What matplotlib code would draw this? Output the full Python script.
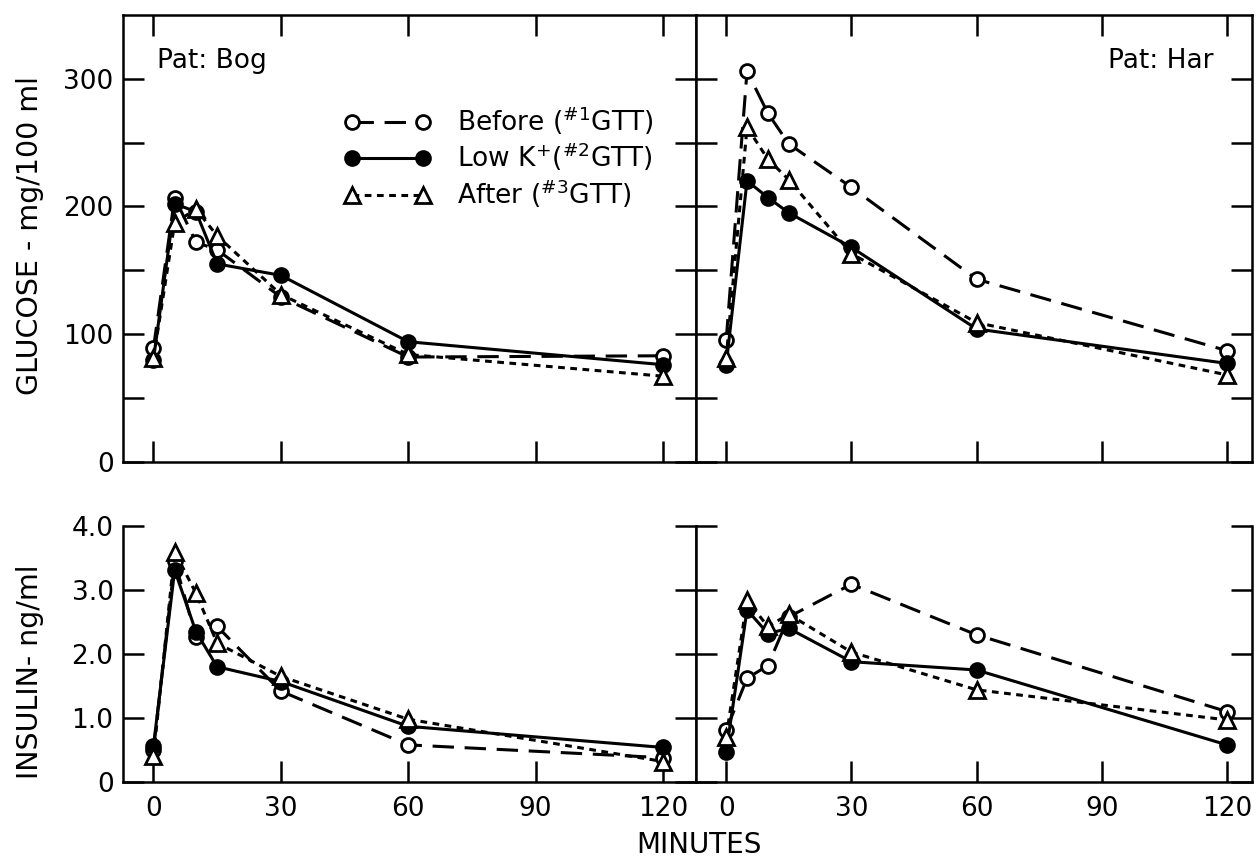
import matplotlib
matplotlib.use('Agg')
import matplotlib.pyplot as plt
from matplotlib.lines import Line2D
from matplotlib.ticker import FixedLocator, FuncFormatter

plt.rcParams['font.family'] = ['DejaVu Sans']
plt.rcParams['mathtext.fontset'] = 'dejavusans'

minutes = [0, 5, 10, 15, 30, 60, 120]
x_ticks = [0, 30, 60, 90, 120]

glu_bog_before = [89, 207, 172, 166, 129, 82, 83]
glu_bog_lowk = [80, 202, 196, 155, 146, 94, 76]
glu_bog_after = [81, 187, 198, 177, 131, 84, 67]

glu_har_before = [95, 306, 273, 249, 215, 143, 87]
glu_har_lowk = [76, 220, 207, 195, 168, 104, 77]
glu_har_after = [81, 262, 237, 221, 163, 109, 68]

ins_bog_before = [0.50, 3.45, 2.27, 2.43, 1.42, 0.58, 0.38]
ins_bog_lowk = [0.56, 3.31, 2.35, 1.80, 1.57, 0.87, 0.54]
ins_bog_after = [0.40, 3.60, 2.95, 2.17, 1.65, 0.98, 0.32]

ins_har_before = [0.81, 1.62, 1.82, 2.58, 3.09, 2.30, 1.10]
ins_har_lowk = [0.47, 2.69, 2.32, 2.40, 1.88, 1.75, 0.58]
ins_har_after = [0.70, 2.84, 2.43, 2.62, 2.03, 1.44, 0.97]

legend_labels = [r'Before ($^{\#1}$GTT)', r'Low K$^{+}$($^{\#2}$GTT)', r'After ($^{\#3}$GTT)']
patients = ['Pat: Bog', 'Pat: Har']

W, H = 1257, 858
fig = plt.figure(figsize=(W / 100, H / 100), dpi=100)

def px_axes(x0, x1, y0, y1):
    return fig.add_axes([x0 / W, 1 - y1 / H, (x1 - x0) / W, (y1 - y0) / H])

LW = 2.2
styles = [
    dict(color='black', lw=LW, dashes=(7, 3.5), marker='o', ms=10, mfc='white', mec='black', mew=2.0),
    dict(color='black', lw=LW, ls='-', marker='o', ms=10, mfc='black', mec='black', mew=2.0),
    dict(color='black', lw=LW, dashes=(2.2, 1.8), marker='^', ms=11, mfc='white', mec='black', mew=2.0),
]

ax_gl = px_axes(123.3, 695.7, 15, 461.7)
ax_gr = px_axes(695.7, 1252, 15, 461.7)
ax_il = px_axes(123.3, 695.7, 526, 782)
ax_ir = px_axes(695.7, 1252, 526, 782)

xlims = [(-7.1, 127.7), (-7.3, 126.0)]

glu_data = [(glu_bog_before, glu_bog_lowk, glu_bog_after),
            (glu_har_before, glu_har_lowk, glu_har_after)]
ins_data = [(ins_bog_before, ins_bog_lowk, ins_bog_after),
            (ins_har_before, ins_har_lowk, ins_har_after)]

for i, ax in enumerate([ax_gl, ax_gr]):
    for s, ser in zip(styles, glu_data[i]):
        ax.plot(minutes, ser, clip_on=False, **s)
    ax.set_xlim(*xlims[i])
    ax.set_ylim(0, 350)
    ax.xaxis.set_major_locator(FixedLocator(x_ticks))
    ax.yaxis.set_major_locator(FixedLocator([0, 50, 100, 150, 200, 250, 300]))
    ax.tick_params(direction='in', length=15, width=1.8, top=True, bottom=True,
                   left=True, right=True, labelbottom=False, labelleft=(i == 0),
                   labelsize=19, pad=7)
    ax.yaxis.set_major_formatter(FuncFormatter(lambda v, p: f'{int(v)}' if v % 100 == 0 else ''))
    for sp in ax.spines.values():
        sp.set_linewidth(1.8)

for i, ax in enumerate([ax_il, ax_ir]):
    for s, ser in zip(styles, ins_data[i]):
        ax.plot(minutes, ser, clip_on=False, **s)
    ax.set_xlim(*xlims[i])
    ax.set_ylim(0, 4.0)
    ax.xaxis.set_major_locator(FixedLocator(x_ticks))
    ax.yaxis.set_major_locator(FixedLocator([0, 1, 2, 3, 4]))
    ax.yaxis.set_major_formatter(FuncFormatter(lambda v, p: '0' if v == 0 else f'{v:.1f}'))
    ax.tick_params(direction='in', length=15, width=1.8, top=False, bottom=True,
                   left=True, right=True, labelleft=(i == 0), labelsize=19, pad=7)
    ax.tick_params(axis='x', pad=10)
    ax.spines['top'].set_visible(False)
    for sp in ax.spines.values():
        sp.set_linewidth(1.8)

fig.text(157 / W, 1 - 61 / H, patients[0], fontsize=19, ha='left', va='center')
fig.text(1213 / W, 1 - 61 / H, patients[1], fontsize=19, ha='right', va='center')

handles = [Line2D([], [], **s) for s in styles]
ax_gl.legend(handles, legend_labels, loc='upper left', bbox_to_anchor=(0.385, 0.80),
             frameon=False, numpoints=2, handlelength=3.3, handletextpad=1.0,
             labelspacing=0.15, borderpad=0, borderaxespad=0, fontsize=19)

fig.text(30 / W, 1 - 236 / H, 'GLUCOSE - mg/100 ml', rotation=90, fontsize=20.5,
         ha='center', va='center')
fig.text(30 / W, 1 - 672 / H, 'INSULIN- ng/ml', rotation=90, fontsize=20.5,
         ha='center', va='center')
fig.text(699 / W, 1 - 845 / H, 'MINUTES', fontsize=20, ha='center', va='center')

fig.savefig('out.png', dpi=100)
